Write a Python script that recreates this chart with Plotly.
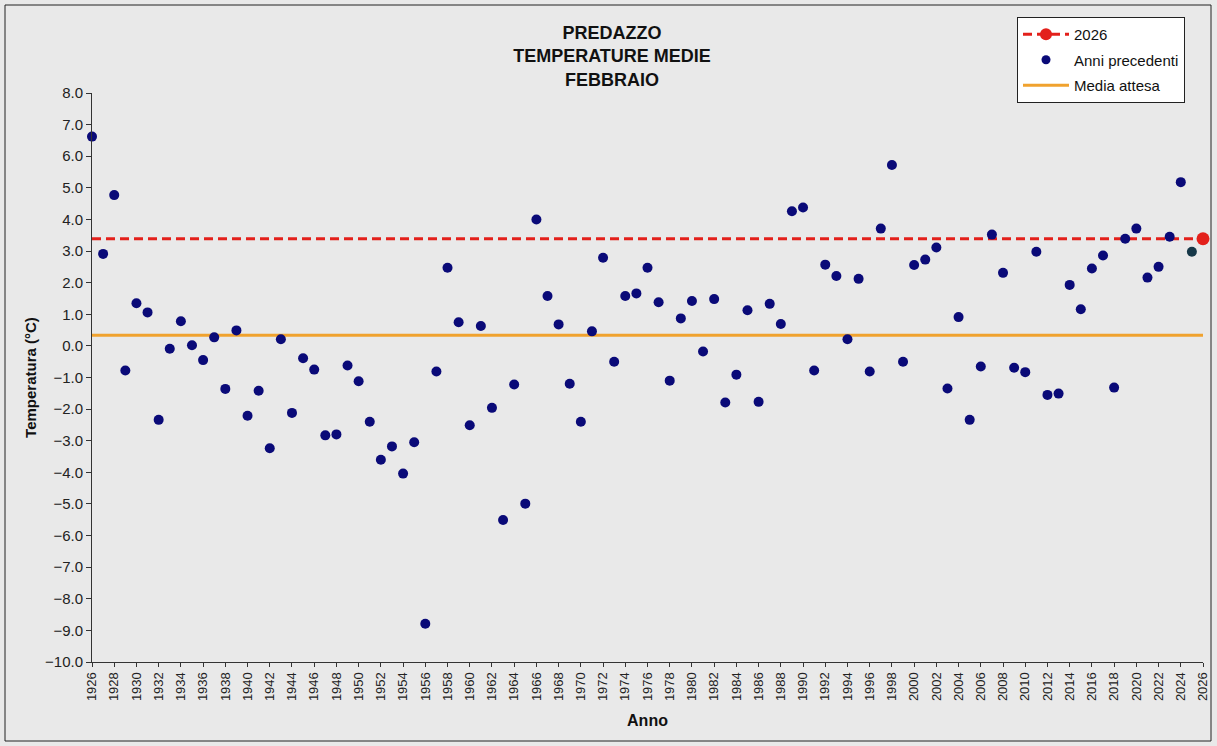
import plotly.graph_objects as go

years = list(range(1926, 2026))
temps = [
    6.62, 2.91, 4.77, -0.78, 1.35, 1.06, -2.34, -0.09, 0.78, 0.02,   # 1926-1935
    -0.45, 0.27, -1.36, 0.49, -2.21, -1.42, -3.24, 0.21, -2.12, -0.39,  # 1936-1945
    -0.75, -2.83, -2.80, -0.62, -1.12, -2.40, -3.60, -3.18, -4.04, -3.05,  # 1946-1955
    -8.79, -0.81, 2.47, 0.75, -2.51, 0.63, -1.96, -5.51, -1.22, -4.99,  # 1956-1965
    4.00, 1.58, 0.68, -1.20, -2.40, 0.46, 2.79, -0.50, 1.58, 1.66,  # 1966-1975
    2.47, 1.38, -1.10, 0.87, 1.42, -0.18, 1.48, -1.79, -0.91, 1.13,  # 1976-1985
    -1.77, 1.33, 0.69, 4.26, 4.38, -0.78, 2.57, 2.21, 0.21, 2.12,  # 1986-1995
    -0.81, 3.71, 5.72, -0.50, 2.56, 2.73, 3.11, -1.35, 0.91, -2.34,  # 1996-2005
    -0.65, 3.52, 2.31, -0.69, -0.83, 2.98, -1.55, -1.51, 1.93, 1.16,  # 2006-2015
    2.45, 2.86, -1.32, 3.39, 3.71, 2.16, 2.50, 3.45, 5.18, 2.98,  # 2016-2025
]
current_year = 2026
current_value = 3.39
expected_mean = 0.34
x_range = [1926, 2026]

title_lines = ["PREDAZZO", "TEMPERATURE MEDIE", "FEBBRAIO"]

FONT = "Liberation Sans, Arial, sans-serif"
RED = "#E3201B"
NAVY = "#0A0A78"
ORANGE = "#F0A22E"
BG = "#e9e9e9"
DASH = "9px,5px"

fig = go.Figure()

# Expected mean line
fig.add_trace(go.Scatter(
    x=x_range, y=[expected_mean, expected_mean], mode="lines",
    line=dict(color=ORANGE, width=3), showlegend=False, hoverinfo="skip",
))
# Current-year dashed reference line
fig.add_trace(go.Scatter(
    x=x_range, y=[current_value, current_value], mode="lines",
    line=dict(color=RED, width=3, dash=DASH), showlegend=False, hoverinfo="skip",
))
# Previous years
fig.add_trace(go.Scatter(
    x=years[:-1], y=temps[:-1], mode="markers",
    marker=dict(color=NAVY, size=10), showlegend=False, cliponaxis=False,
))
fig.add_trace(go.Scatter(
    x=years[-1:], y=temps[-1:], mode="markers",
    marker=dict(color="#163848", size=10), showlegend=False, cliponaxis=False,
))
# Current year point
fig.add_trace(go.Scatter(
    x=[current_year], y=[current_value], mode="markers",
    marker=dict(color=RED, size=13), showlegend=False, cliponaxis=False,
))

# Legend entries
fig.add_trace(go.Scatter(
    x=[None], y=[None], mode="lines+markers", name=str(current_year),
    line=dict(color=RED, width=3, dash=DASH), marker=dict(color=RED, size=12),
    legendgroup="a",
))
fig.add_trace(go.Scatter(
    x=[None], y=[None], mode="markers", name="Anni precedenti",
    marker=dict(color=NAVY, size=9), legendgroup="b",
))
fig.add_trace(go.Scatter(
    x=[None], y=[None], mode="lines", name="Media attesa",
    line=dict(color=ORANGE, width=3), legendgroup="c",
))

fig.update_layout(
    width=1217, height=746,
    margin=dict(l=92, r=14, t=93, b=84, autoexpand=False),
    paper_bgcolor=BG, plot_bgcolor=BG,
    font=dict(family=FONT, size=13, color="#111111"),
    title=dict(
        text="<br>".join(f"<b>{t}</b>" for t in title_lines),
        x=612 / 1217, xanchor="center", y=1 - 39 / 746, yanchor="top",
        font=dict(family=FONT, size=18, color="#111111"),
    ),
    legend=dict(
        x=(1017 - 92) / 1111, y=(662 - 17) / 569, xanchor="left", yanchor="top",
        bgcolor="white", bordercolor="#222222", borderwidth=1,
        font=dict(family=FONT, size=15, color="#111111"),
        tracegroupgap=3, itemwidth=46,
    ),
    xaxis=dict(
        range=x_range, tick0=1926, dtick=2, tickangle=-90, automargin=False,
        showgrid=False, zeroline=False, showline=True, linecolor="#333333",
        ticks="outside", ticklen=4, tickcolor="#333333",
        tickfont=dict(size=13, color="#222222"),
        title=dict(text="<b>Anno</b>", font=dict(size=16), standoff=14),
    ),
    yaxis=dict(
        range=[-10, 8], dtick=1, tickformat=".1f", automargin=False,
        showgrid=False, zeroline=False, showline=True, linecolor="#333333",
        ticks="outside", ticklen=5, tickcolor="#333333",
        tickfont=dict(size=15, color="#222222"),
        title=dict(text="<b>Temperatura (°C)</b>", font=dict(size=15), standoff=4),
    ),
    shapes=[dict(
        type="rect", xref="paper", yref="paper",
        x0=(5 - 92) / 1111, x1=(1211 - 92) / 1111,
        y0=(662 - 741) / 569, y1=(662 - 5) / 569,
        line=dict(color="#222222", width=1), layer="below",
    )],
)

fig.write_html(
    "out.html",
    config={"displayModeBar": False},
    post_script="document.body.style.margin='0';document.body.style.padding='0';",
)
